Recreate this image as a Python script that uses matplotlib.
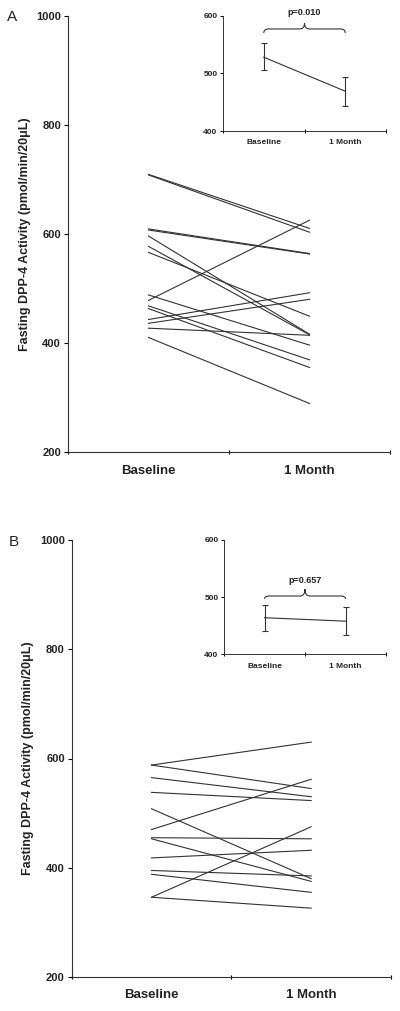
import matplotlib
matplotlib.use("Agg")
import matplotlib.pyplot as plt
from matplotlib.path import Path
from matplotlib.patches import PathPatch

plt.rcParams['font.family'] = ['Liberation Sans', 'DejaVu Sans']

categories = ["Baseline", "1 Month"]
y_ticks_main = [200, 400, 600, 800, 1000]
y_ticks_inset = [400, 500, 600]
y_label = "Fasting DPP-4 Activity (pmol/min/20\u03bcL)"

# Panel A: individual subjects (baseline, 1 month)
a_baseline = [709, 708, 609, 607, 596, 577, 566, 488, 478, 468, 463, 443, 436, 427, 410]
a_month = [610, 603, 564, 563, 416, 415, 449, 396, 625, 369, 355, 492, 480, 414, 289]
a_mean = [528, 469]
a_err_hi = [553, 493]
a_err_lo = [505, 443]
a_p = "p=0.010"

# Panel B
b_baseline = [588, 588, 565, 538, 508, 470, 455, 453, 418, 395, 388, 346, 346]
b_month = [630, 545, 530, 523, 380, 562, 453, 375, 432, 385, 355, 475, 326]
b_mean = [464, 458]
b_err_hi = [486, 482]
b_err_lo = [440, 434]
b_p = "p=0.657"

W, H = 400, 1011
fig = plt.figure(figsize=(W / 100, H / 100), dpi=100)

LINE_C = '#333333'
TXT_C = '#222222'


def box(l, t, r, b):
    return [l / W, 1 - b / H, (r - l) / W, (b - t) / H]


def style_main(ax):
    ax.set_xlim(0, 2)
    ax.set_ylim(200, 1000)
    ax.spines['top'].set_visible(False)
    ax.spines['right'].set_visible(False)
    for s in ('left', 'bottom'):
        ax.spines[s].set_linewidth(0.8)
        ax.spines[s].set_color('#333333')
    ax.set_yticks(y_ticks_main)
    ax.set_yticklabels([str(v) for v in y_ticks_main], fontsize=8,
                       fontweight='bold', color=TXT_C)
    ax.set_xticks([0, 1, 2])
    ax.set_xticklabels(['', '', ''])
    ax.set_xticks([0.5, 1.5], minor=True)
    ax.set_xticklabels(categories, minor=True, fontsize=9.5,
                       fontweight='bold', color=TXT_C)
    ax.tick_params(axis='x', which='minor', length=0, pad=9)
    ax.tick_params(axis='x', which='major', length=3, width=0.8, direction='inout')
    ax.tick_params(axis='y', length=3, width=0.8, direction='out', pad=2)
    ax.set_ylabel(y_label, fontsize=9, fontweight='bold', color=TXT_C,
                  labelpad=4)


def brace(ax, x0, x1, y_tip, y_flat, y_peak):
    xm = (x0 + x1) / 2
    dx = 0.06
    verts = [
        (x0, y_tip), (x0, y_flat), (x0 + dx, y_flat),
        (xm - dx, y_flat), (xm, y_flat), (xm, y_peak),
        (xm, y_flat), (xm + dx, y_flat),
        (x1 - dx, y_flat), (x1, y_flat), (x1, y_tip),
    ]
    codes = [Path.MOVETO, Path.CURVE3, Path.CURVE3,
             Path.LINETO, Path.CURVE3, Path.CURVE3,
             Path.CURVE3, Path.CURVE3,
             Path.LINETO, Path.CURVE3, Path.CURVE3]
    p = PathPatch(Path(verts, codes), fill=False, lw=0.8, color=LINE_C,
                  clip_on=False)
    ax.add_patch(p)


def style_inset(ax, mean, hi, lo, ptxt, br):
    ax.set_xlim(0, 2)
    ax.set_ylim(400, 600)
    ax.spines['top'].set_visible(False)
    ax.spines['right'].set_visible(False)
    for s in ('left', 'bottom'):
        ax.spines[s].set_linewidth(0.7)
        ax.spines[s].set_color('#333333')
    ax.set_yticks(y_ticks_inset)
    ax.set_yticklabels([str(v) for v in y_ticks_inset], fontsize=6,
                       fontweight='bold', color=TXT_C)
    ax.set_xticks([0, 1, 2])
    ax.set_xticklabels(['', '', ''])
    ax.set_xticks([0.5, 1.5], minor=True)
    ax.set_xticklabels(categories, minor=True, fontsize=6,
                       fontweight='bold', color=TXT_C)
    ax.tick_params(axis='x', which='minor', length=0, pad=6)
    ax.tick_params(axis='x', which='major', length=2.5, width=0.7, direction='inout')
    ax.tick_params(axis='y', length=2.5, width=0.7, direction='out', pad=1.5)
    x = [0.5, 1.5]
    yerr = [[m - l for m, l in zip(mean, lo)], [h - m for m, h in zip(mean, hi)]]
    ax.errorbar(x, mean, yerr=yerr, color=LINE_C, lw=0.8, elinewidth=0.8,
                capsize=2.5, capthick=0.8)
    y_tip, y_flat, y_peak, y_txt = br
    brace(ax, 0.5, 1.5, y_tip, y_flat, y_peak)
    ax.text(1.0, y_txt, ptxt, ha='center', va='center', fontsize=6.5,
            fontweight='bold', color=TXT_C, clip_on=False)
    ax.patch.set_alpha(0)


# Panel A
axA = fig.add_axes(box(68, 15.7, 390, 452))
for b0, m1 in zip(a_baseline, a_month):
    axA.plot([0.5, 1.5], [b0, m1], color=LINE_C, lw=0.8)
style_main(axA)
fig.text(12 / W, 1 - 17 / H, "A", fontsize=11, color=TXT_C, ha='center', va='center')

insA = fig.add_axes(box(223, 15.7, 386, 131))
style_inset(insA, a_mean, a_err_hi, a_err_lo, a_p, (570, 577, 587, 606))

# Panel B
axB = fig.add_axes(box(71.7, 540, 391, 977))
for b0, m1 in zip(b_baseline, b_month):
    axB.plot([0.5, 1.5], [b0, m1], color=LINE_C, lw=0.8)
style_main(axB)
fig.text(14 / W, 1 - 542 / H, "B", fontsize=11, color=TXT_C, ha='center', va='center')

insB = fig.add_axes(box(224, 540, 386, 654.3))
style_inset(insB, b_mean, b_err_hi, b_err_lo, b_p, (497, 502, 514, 530))

fig.savefig("out.png", dpi=100)
